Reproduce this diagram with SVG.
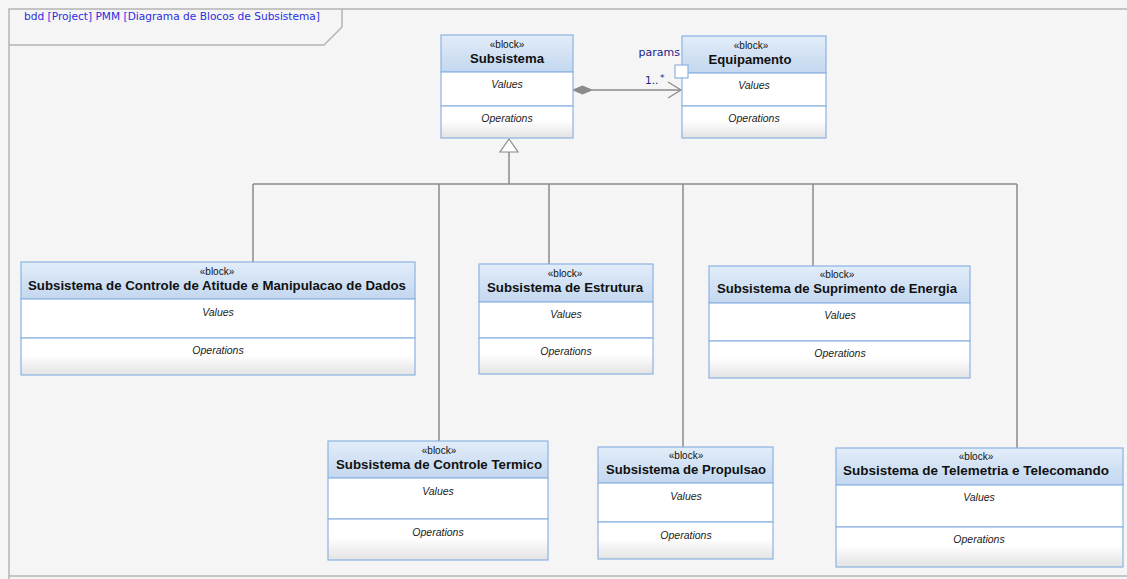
<svg xmlns="http://www.w3.org/2000/svg" width="1127" height="579" viewBox="0 0 1127 579">
<defs>
<linearGradient id="hdr" x1="0" y1="0" x2="0" y2="1"><stop offset="0" stop-color="#e2edf9"/><stop offset="1" stop-color="#c3d7ef"/></linearGradient>
<linearGradient id="ops" x1="0" y1="0" x2="0" y2="1"><stop offset="0" stop-color="#ffffff"/><stop offset="0.45" stop-color="#ffffff"/><stop offset="1" stop-color="#e3e3e3"/></linearGradient>
<style>
.hdr{fill:url(#hdr);stroke:#8db3e2;stroke-width:1.2}
.val{fill:#ffffff;stroke:#8db3e2;stroke-width:1.2}
.ops{fill:url(#ops);stroke:#8db3e2;stroke-width:1.2}
.st{font-family:"Liberation Sans",Arial,sans-serif;font-size:10px;fill:#111;text-anchor:middle}
.ti{font-family:"Liberation Sans",Arial,sans-serif;font-size:13px;font-weight:bold;fill:#111;text-anchor:middle}
.it{font-family:"Liberation Sans",Arial,sans-serif;font-size:10.5px;font-style:italic;fill:#222;text-anchor:middle}
.con{stroke:#8a8a8a;stroke-width:1.5;fill:none}
.frm{stroke:#b4b4b4;stroke-width:1.5;fill:none}
</style>
</defs>
<rect x="0" y="0" width="1127" height="579" fill="#f5f5f5"/>
<g id="frame">
<path class="frm" d="M9,579 V9 H1127"/>
<path class="frm" d="M9,576 H1127"/>
<path class="frm" d="M342,9 V27 L324,45 H9"/>
<text x="24" y="20" font-family="'DejaVu Sans',Verdana,sans-serif" font-size="11px" fill="#2d2de0" textLength="296" lengthAdjust="spacingAndGlyphs">bdd [Project] PMM [Diagrama de Blocos de Subsistema]</text>
</g>
<g id="connectors">
<path class="con" d="M509,152 V184"/>
<path class="con" d="M253,184 H1017"/>
<path class="con" d="M253,184 V262"/>
<path class="con" d="M439,184 V441"/>
<path class="con" d="M549,184 V264"/>
<path class="con" d="M683,184 V447"/>
<path class="con" d="M813,184 V266"/>
<path class="con" d="M1017,184 V448"/>
<polygon points="509,139 500,152 518,152" fill="#ffffff" stroke="#8a8a8a" stroke-width="1.2"/>
<path class="con" d="M592,90 H681"/>
<polygon points="573,90 582.5,86 592,90 582.5,94" fill="#8a8a8a" stroke="#8a8a8a" stroke-width="1"/>
<path d="M668,82 L681,90 L668,98" fill="none" stroke="#8a8a8a" stroke-width="1.2"/>
<text x="645" y="84" font-family="'DejaVu Sans',Verdana,sans-serif" font-size="10.5px" fill="#1c1c8a">1..</text>
<text x="660" y="81" font-family="'DejaVu Sans',Verdana,sans-serif" font-size="9px" fill="#1c1c8a">*</text>
</g>
<g id="Subsistema">
<rect class="hdr" x="441" y="35" width="132" height="37"/>
<rect class="val" x="441" y="72" width="132" height="34"/>
<rect class="ops" x="441" y="106" width="132" height="32"/>
<text class="st" x="507" y="48">«block»</text>
<text class="ti" x="507" y="62.5" textLength="74" lengthAdjust="spacingAndGlyphs">Subsistema</text>
<text class="it" x="507" y="88">Values</text>
<text class="it" x="507" y="122">Operations</text>
</g>
<g id="Equipamento">
<rect class="hdr" x="682" y="36" width="144" height="37"/>
<rect class="val" x="682" y="73" width="144" height="33"/>
<rect class="ops" x="682" y="106" width="144" height="32"/>
<text class="st" x="751" y="49">«block»</text>
<text class="ti" x="750" y="63.5" textLength="83" lengthAdjust="spacingAndGlyphs">Equipamento</text>
<text class="it" x="754" y="89">Values</text>
<text class="it" x="754" y="122">Operations</text>
<rect x="675" y="65" width="13" height="13" fill="#ffffff" stroke="#8db3e2" stroke-width="1.2"/>
<text x="680" y="56" font-family="'DejaVu Sans',Verdana,sans-serif" font-size="11px" fill="#1c1c8a" text-anchor="end">params</text>
</g>
<g id="Atitude">
<rect class="hdr" x="21" y="262" width="394" height="37"/>
<rect class="val" x="21" y="299" width="394" height="39"/>
<rect class="ops" x="21" y="338" width="394" height="37"/>
<text class="st" x="217" y="275">«block»</text>
<text class="ti" x="217" y="290" textLength="378" lengthAdjust="spacingAndGlyphs">Subsistema de Controle de Atitude e Manipulacao de Dados</text>
<text class="it" x="218" y="315.5">Values</text>
<text class="it" x="218" y="354">Operations</text>
</g>
<g id="Estrutura">
<rect class="hdr" x="479" y="264" width="174" height="38"/>
<rect class="val" x="479" y="302" width="174" height="36"/>
<rect class="ops" x="479" y="338" width="174" height="36"/>
<text class="st" x="565" y="277">«block»</text>
<text class="ti" x="565" y="292" textLength="156" lengthAdjust="spacingAndGlyphs">Subsistema de Estrutura</text>
<text class="it" x="566" y="318">Values</text>
<text class="it" x="566" y="355">Operations</text>
</g>
<g id="Suprimento">
<rect class="hdr" x="709" y="266" width="261" height="37"/>
<rect class="val" x="709" y="303" width="261" height="38"/>
<rect class="ops" x="709" y="341" width="261" height="37"/>
<text class="st" x="837" y="278">«block»</text>
<text class="ti" x="837" y="293" textLength="240" lengthAdjust="spacingAndGlyphs">Subsistema de Suprimento de Energia</text>
<text class="it" x="840" y="319">Values</text>
<text class="it" x="840" y="357">Operations</text>
</g>
<g id="Termico">
<rect class="hdr" x="328" y="441" width="220" height="37"/>
<rect class="val" x="328" y="478" width="220" height="41"/>
<rect class="ops" x="328" y="519" width="220" height="41"/>
<text class="st" x="439" y="454">«block»</text>
<text class="ti" x="439" y="469" textLength="206" lengthAdjust="spacingAndGlyphs">Subsistema de Controle Termico</text>
<text class="it" x="438" y="494.5">Values</text>
<text class="it" x="438" y="536">Operations</text>
</g>
<g id="Propulsao">
<rect class="hdr" x="598" y="447" width="175" height="36"/>
<rect class="val" x="598" y="483" width="175" height="39"/>
<rect class="ops" x="598" y="522" width="175" height="37"/>
<text class="st" x="686" y="459">«block»</text>
<text class="ti" x="686" y="474" textLength="160" lengthAdjust="spacingAndGlyphs">Subsistema de Propulsao</text>
<text class="it" x="686" y="500">Values</text>
<text class="it" x="686" y="538.5">Operations</text>
</g>
<g id="Telemetria">
<rect class="hdr" x="836" y="448" width="287" height="37"/>
<rect class="val" x="836" y="485" width="287" height="42"/>
<rect class="ops" x="836" y="527" width="287" height="40"/>
<text class="st" x="976" y="460">«block»</text>
<text class="ti" x="976" y="475" textLength="266" lengthAdjust="spacingAndGlyphs">Subsistema de Telemetria e Telecomando</text>
<text class="it" x="979" y="501">Values</text>
<text class="it" x="979" y="543">Operations</text>
</g>
</svg>
